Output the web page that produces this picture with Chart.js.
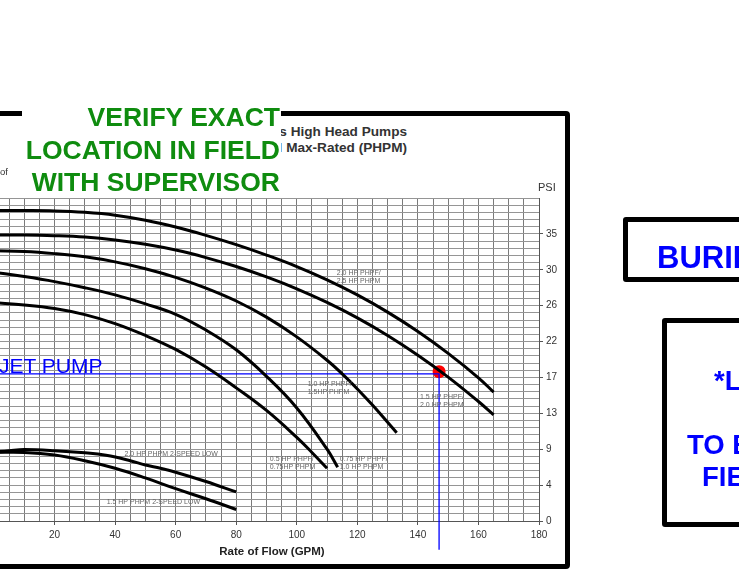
<!DOCTYPE html>
<html>
<head>
<meta charset="utf-8">
<script src="https://cdn.jsdelivr.net/npm/chart.js@4.4.1/dist/chart.umd.min.js"></script>
<style>
  html, body { margin: 0; padding: 0; background: #fff; }
  body { width: 739px; height: 570px; position: relative; overflow: hidden; font-family: "Liberation Sans", Arial, sans-serif; }
  .abs { position: absolute; white-space: nowrap; }
  #frame { left: -20px; top: 111px; width: 590px; height: 458px; box-sizing: border-box; border: 5px solid #000; border-radius: 4px; z-index: 1; }
  #pumpChart { position: absolute; left: -60px; top: 0; z-index: 2; }
  #title { right: 332px; top: 124px; text-align: right; font-weight: bold; font-size: 13.6px; line-height: 16px; color: #333; z-index: 1; }
  #verify { left: 22px; top: 101px; width: 259px; height: 95px; background: #fff; z-index: 3; text-align: right;
            color: #0f8c0f; font-weight: bold; font-size: 26.5px; line-height: 32.5px; white-space: nowrap; }
  #verify div { padding-right: 1px; }
  #psi { left: 538px; top: 181px; font-size: 11px; color: #333; z-index: 3; }
  #xtitle { left: 172px; width: 200px; top: 545px; text-align: center; font-weight: bold; font-size: 11.5px; color: #222; z-index: 3; }
  #ytitle { right: 731px; top: 166px; text-align: right; font-size: 9.5px; line-height: 12px; color: #333; z-index: 3; }
  #jet { left: -1px; top: 354px; font-size: 21px; line-height: 24px; color: #0000ff; z-index: 3; }
  .box { box-sizing: border-box; border: 5px solid #000; border-radius: 3px; z-index: 1; }
  .blue { color: #0000ff; font-weight: bold; z-index: 3; }
</style>
</head>
<body>
<div id="frame" class="abs"></div>
<div id="title" class="abs">Challenger Series High Head Pumps<br>Full Rated (PHPF) and Full Max-Rated (PHPM)</div>
<div id="ytitle" class="abs">Feet of</div>
<canvas id="pumpChart" width="800" height="570"></canvas>
<div id="verify" class="abs"><div>VERIFY EXACT</div><div>LOCATION IN FIELD</div><div>WITH SUPERVISOR</div></div>
<div id="psi" class="abs">PSI</div>
<div id="xtitle" class="abs">Rate of Flow (GPM)</div>
<div id="jet" class="abs">JET PUMP</div>

<div class="abs box" style="left:623px; top:217px; width:200px; height:65px;"></div>
<div class="abs blue" style="left:657px; top:242px; font-size:31px; line-height:32px;">BURIED</div>

<div class="abs box" style="left:662px; top:318px; width:200px; height:209px;"></div>
<div class="abs blue" style="left:714px; top:367px; font-size:27.5px; line-height:28px;">*LOCATION</div>
<div class="abs blue" style="left:687px; top:431px; font-size:27.5px; line-height:28px;">TO BE</div>
<div class="abs blue" style="left:702px; top:463px; font-size:27.5px; line-height:28px;">FIELD</div>

<script>
// flow in GPM, head in feet (right axis shows the same head in PSI)
const flow1 = [0, 10, 20, 30, 40, 50, 60, 70, 80, 90, 100, 110, 120, 130, 140, 150, 160, 165];
const head1 = [86.5, 86.5, 86.4, 86, 85.2, 83.8, 81.9, 79.6, 77, 74.1, 70.9, 67.2, 63, 58.2, 52.8, 46.7, 39.9, 35.9];

const flow2 = [0, 10, 20, 30, 40, 50, 60, 70, 80, 90, 100, 110, 120, 130, 140, 150, 160, 165];
const head2 = [79.7, 79.7, 79.5, 79.1, 78.3, 77.1, 75.5, 73.4, 70.9, 68, 64.7, 60.9, 56.6, 51.7, 46.2, 40.1, 33.3, 29.6];

const flow3 = [0, 10, 20, 30, 40, 50, 60, 70, 80, 90, 100, 110, 115, 120, 125, 130, 133];
const head3 = [75.3, 75.1, 74.5, 73.6, 72.2, 70.3, 67.9, 64.9, 61.3, 56.8, 51.3, 44.8, 41, 36.8, 32.3, 27.5, 24.6];

const flow4 = [0, 10, 20, 30, 40, 50, 60, 70, 80, 90, 100, 110, 113.5];
const head4 = [69.3, 68.1, 66.7, 65, 63, 60.5, 57.6, 53.2, 47.7, 40.3, 31.5, 20, 15];

const flow5 = [0, 10, 20, 30, 40, 50, 60, 70, 80, 90, 100, 105, 110];
const head5 = [60.8, 60.2, 59.2, 57.5, 55, 51.7, 47.8, 42.9, 37.1, 30.8, 23.3, 19.1, 14.7];

// 2-speed low curves
const flow6 = [0, 5, 10, 20, 30, 37, 45, 50, 55, 60, 70, 80];
const head6 = [19.2, 19.6, 19.9, 19.6, 19, 18.3, 16.8, 15.6, 14.7, 13.6, 11, 8.1];

const flow7 = [0, 10, 20, 30, 40, 50, 60, 70, 80];
const head7 = [19.1, 19.1, 18.4, 16.8, 14.7, 12, 9, 6.2, 3.2];

// design point (jet pump)
const dutyFlow = 147;
const dutyHead = 41;
const dotHead = 41.6;

// right axis labels: PSI for every 10 ft of head
const psiTicks = ['0', '4', '9', '13', '17', '22', '26', '30', '35'];

const curveLabels = [
  { text: '2.0 HP PHPF/', flow: 113.2, head: 69.2 },
  { text: '2.5 HP PHPM', flow: 113.2, head: 66.9 },
  { text: '1.0 HP PHPF/', flow: 103.6, head: 38.1 },
  { text: '1.5HP PHPM', flow: 103.6, head: 35.8 },
  { text: '1.5 HP PHPF/', flow: 140.7, head: 34.4 },
  { text: '2.0 HP PHPM', flow: 140.7, head: 32.2 },
  { text: '0.5 HP PHPF/', flow: 91.1, head: 17.2 },
  { text: '0.75HP PHPM', flow: 91.1, head: 15 },
  { text: '0.75 HP PHPF/', flow: 114.2, head: 17.2 },
  { text: '1.0 HP PHPM', flow: 114.2, head: 15 },
  { text: '2.0 HP PHPM 2-SPEED LOW', flow: 43.1, head: 18.6 },
  { text: '1.5 HP PHPM 2-SPEED LOW', flow: 37.2, head: 5.3 }
];

function pts(fx, hy) {
  return fx.map((f, i) => ({ x: f, y: hy[i] }));
}

function curve(fx, hy) {
  return {
    data: pts(fx, hy),
    borderColor: '#000',
    borderWidth: 3,
    pointRadius: 0,
    fill: false,
    tension: 0.4
  };
}

const curveLabelPlugin = {
  id: 'curveLabels',
  afterDatasetsDraw(chart) {
    const { ctx, scales: { x, y } } = chart;
    ctx.save();
    ctx.font = '7px "Liberation Sans", Arial, sans-serif';
    ctx.fillStyle = '#666';
    ctx.textBaseline = 'middle';
    curveLabels.forEach(l => {
      ctx.fillText(l.text, x.getPixelForValue(l.flow), y.getPixelForValue(l.head));
    });
    ctx.restore();
  }
};

Chart.defaults.font.family = '"Liberation Sans", Arial, sans-serif';

const ctx = document.getElementById('pumpChart').getContext('2d');
const pumpChart = new Chart(ctx, {
  type: 'line',
  data: {
    datasets: [
      curve(flow1, head1),
      curve(flow2, head2),
      curve(flow3, head3),
      curve(flow4, head4),
      curve(flow5, head5),
      curve(flow6, head6),
      curve(flow7, head7),
      {
        // blue guide lines to the design point
        data: [{ x: 0, y: dutyHead }, { x: dutyFlow, y: dutyHead }, { x: dutyFlow, y: -8 }],
        borderColor: '#0000ff',
        borderWidth: 1.3,
        pointRadius: 0,
        tension: 0,
        clip: false
      },
      {
        data: [{ x: dutyFlow, y: dotHead }],
        showLine: false,
        pointRadius: 6.5,
        pointBackgroundColor: '#ff0000',
        pointBorderColor: '#ff0000',
        pointBorderWidth: 0
      }
    ]
  },
  options: {
    responsive: false,
    animation: false,
    layout: { padding: { left: 54, right: 171, top: 198, bottom: 19 } },
    plugins: { legend: { display: false }, tooltip: { enabled: false } },
    scales: {
      x: {
        type: 'linear',
        min: 0,
        max: 180,
        ticks: {
          stepSize: 5,
          autoSkip: false,
          maxRotation: 0,
          padding: 4,
          color: '#333',
          font: { size: 10 },
          callback: v => (v % 20 === 0 ? v : '')
        },
        grid: {
          color: '#7a7a7a',
          lineWidth: 1,
          tickLength: 4,
          tickColor: c => (c.tick && c.tick.value % 20 === 0 ? '#555' : 'rgba(0,0,0,0)')
        },
        border: { color: '#555', width: 1 },
        afterFit: s => { s.height = 30; }
      },
      y: {
        type: 'linear',
        position: 'right',
        min: 0,
        max: 90,
        ticks: {
          stepSize: 2,
          autoSkip: false,
          padding: 3,
          color: '#333',
          font: { size: 10 },
          callback: v => (v % 10 === 0 && v / 10 < psiTicks.length ? psiTicks[v / 10] : '')
        },
        grid: {
          color: '#959595',
          lineWidth: 1,
          tickLength: 4,
          tickColor: c => (c.tick && c.tick.value % 10 === 0 && c.tick.value <= 80 ? '#555' : 'rgba(0,0,0,0)')
        },
        border: { color: '#555', width: 1 },
        afterFit: s => { s.width = 30; }
      }
    }
  },
  plugins: [curveLabelPlugin]
});
</script>
</body>
</html>
